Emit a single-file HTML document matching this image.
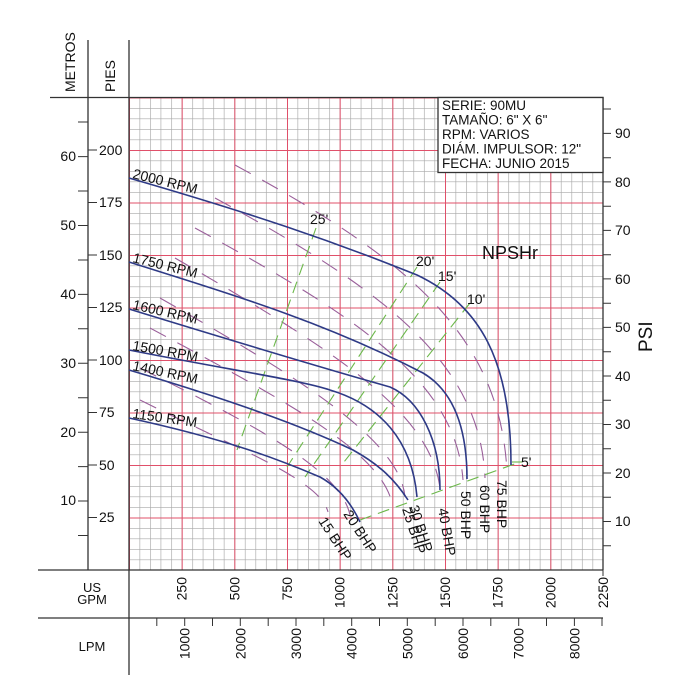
<!DOCTYPE html>
<html><head><meta charset="utf-8"><style>
html,body{margin:0;padding:0;background:#fff}
svg{display:block}
text{font-family:"Liberation Sans",sans-serif;fill:#111}
</style></head><body>
<svg width="700" height="700" viewBox="0 0 700 700" xmlns="http://www.w3.org/2000/svg">
<defs>
<pattern id="mn" x="129" y="97.5" width="10.5333" height="10.5" patternUnits="userSpaceOnUse">
<path d="M0.3 0V10.5M0 0.3H10.5333" stroke="#a8a8a8" stroke-width="0.7" fill="none"/>
</pattern>
<pattern id="mj" x="129" y="97.5" width="52.6667" height="52.5" patternUnits="userSpaceOnUse">
<path d="M0.5 0V52.5M0 0.5H52.6667" stroke="#e0506a" stroke-width="1" fill="none"/>
</pattern>
</defs>
<rect x="0" y="0" width="700" height="700" fill="#fff"/>
<rect x="129" y="97.5" width="474" height="472.5" fill="url(#mn)"/>
<rect x="129" y="97.5" width="474" height="472.5" fill="url(#mj)"/>

<g stroke="#333" stroke-width="1.3" fill="none">
<path d="M50 97.5H603V570"/>
<path d="M88 40V570"/>
<path d="M129 40V675"/>
<path d="M38 570H603"/>
<path d="M38 618H603"/>
</g>

<g stroke="#333" stroke-width="1">
<path d="M78 535.5H88M78 501H88M78 466.6H88M78 432.2H88M78 397.7H88M78 363.3H88M78 328.8H88M78 294.4H88M78 260H88M78 225.5H88M78 191H88M78 156.6H88M78 122H88"/>
<path d="M88 517.5H97M88 465H97M88 412.5H97M88 360H97M88 307.5H97M88 255H97M88 202.5H97M88 150H97"/>
<path d="M603 545.7H611M603 521.5H611M603 497.2H611M603 473H611M603 448.7H611M603 424.5H611M603 400.2H611M603 376H611M603 351.7H611M603 327.4H611M603 303.2H611M603 278.9H611M603 254.7H611M603 230.4H611M603 206.2H611M603 181.9H611M603 157.7H611M603 133.4H611M603 109H611"/>
<path d="M156.8 618V626M184.7 618V626M212.5 618V626M240.3 618V626M268.2 618V626M296 618V626M323.8 618V626M351.7 618V626M379.5 618V626M407.3 618V626M435.2 618V626M463 618V626M490.8 618V626M518.7 618V626M546.5 618V626M574.4 618V626M602 618V626"/>
<path d="M603 570V576"/>
</g>
<g font-size="14" text-anchor="end">
<text x="76" y="505">10</text><text x="76" y="437">20</text><text x="76" y="368">30</text><text x="76" y="299">40</text><text x="76" y="230">50</text><text x="76" y="161">60</text>
</g>
<g font-size="14" text-anchor="start">
<text x="99" y="522">25</text><text x="99" y="470">50</text><text x="99" y="417">75</text><text x="99" y="365">100</text><text x="99" y="312">125</text><text x="99" y="260">150</text><text x="99" y="207">175</text><text x="99" y="155">200</text>
<text x="615" y="526">10</text><text x="615" y="478">20</text><text x="615" y="429">30</text><text x="615" y="381">40</text><text x="615" y="332">50</text><text x="615" y="284">60</text><text x="615" y="235">70</text><text x="615" y="187">80</text><text x="615" y="138">90</text>
</g>
<text font-size="14" transform="translate(75,92) rotate(-90)">METROS</text>
<text font-size="14" transform="translate(115,92) rotate(-90)">PIES</text>
<text font-size="19" transform="translate(652,352) rotate(-90)">PSI</text>
<text font-size="13" x="92" y="592" text-anchor="middle">US</text>
<text font-size="13" x="92" y="604" text-anchor="middle">GPM</text>
<text font-size="13" x="92" y="651" text-anchor="middle">LPM</text>

<g font-size="14" text-anchor="end">
<text transform="translate(186.7,577) rotate(-90)">250</text>
<text transform="translate(239.3,577) rotate(-90)">500</text>
<text transform="translate(292,577) rotate(-90)">750</text>
<text transform="translate(344.7,577) rotate(-90)">1000</text>
<text transform="translate(397.3,577) rotate(-90)">1250</text>
<text transform="translate(450,577) rotate(-90)">1500</text>
<text transform="translate(502.7,577) rotate(-90)">1750</text>
<text transform="translate(555.3,577) rotate(-90)">2000</text>
<text transform="translate(608,577) rotate(-90)">2250</text>
<text transform="translate(189.7,628) rotate(-90)">1000</text>
<text transform="translate(245.3,628) rotate(-90)">2000</text>
<text transform="translate(301,628) rotate(-90)">3000</text>
<text transform="translate(356.7,628) rotate(-90)">4000</text>
<text transform="translate(412.3,628) rotate(-90)">5000</text>
<text transform="translate(468,628) rotate(-90)">6000</text>
<text transform="translate(523.7,628) rotate(-90)">7000</text>
<text transform="translate(579.4,628) rotate(-90)">8000</text>
</g>

<g stroke="#9a5f9a" stroke-width="1.1" fill="none" stroke-dasharray="18,13">
<path d="M235 165 C400 255 500 330 507 472"/>
<path d="M215 198 C380 288 480 360 485 478"/>
<path d="M195 228 C360 318 456 382 463 480"/>
<path d="M175 258 C330 348 430 410 440 488"/>
<path d="M160 298 C300 378 400 440 405 497"/>
<path d="M150 328 C280 398 380 450 392 503"/>
<path d="M140 368 C260 428 340 470 350 515"/>
<path d="M140 400 C240 450 320 480 328 512"/>
</g>

<g stroke="#6cb84a" stroke-width="1.1" fill="none" stroke-dasharray="12,7">
<path d="M316 228 L237 450"/>
<path d="M417 267 L287 467"/>
<path d="M440 282 L305 477"/>
<path d="M470 303 L340 467"/>
<path d="M360 520 L520 462"/>
</g>

<g stroke="#2e3a86" stroke-width="1.6" fill="none">
<path d="M129 178 C250 213 330 240 417 275 C480 305 511 360 511 465"/>
<path d="M129 262 C250 300 330 325 423 373 C455 392 467 430 467 479"/>
<path d="M129 309 C230 340 330 370 390 387 C420 400 440 440 440 490"/>
<path d="M129 350 C230 370 300 380 330 390 C380 405 412 440 417 497"/>
<path d="M129 370 C230 400 300 425 353 450 C380 465 395 480 408 500"/>
<path d="M129 418 C230 440 280 460 320 477 C340 488 352 505 360 522"/>
</g>
<path d="M512 462H522" stroke="#6cb84a" stroke-width="1.1"/>

<g font-size="14">
<text transform="translate(132,178) rotate(14)">2000  RPM</text>
<text transform="translate(132,262) rotate(14)">1750  RPM</text>
<text transform="translate(132,309) rotate(13)">1600  RPM</text>
<text transform="translate(132,350) rotate(10)">1500  RPM</text>
<text transform="translate(132,370) rotate(12)">1400  RPM</text>
<text transform="translate(132,418) rotate(8)">1150  RPM</text>
</g>
<g font-size="14">
<text x="310" y="224">25'</text>
<text x="416" y="266">20'</text>
<text x="438" y="281">15'</text>
<text x="467" y="304">10'</text>
<text x="521" y="467">5'</text>
<text x="482" y="259" font-size="18">NPSHr</text>
<text transform="translate(497,480) rotate(90)">75  BHP</text>
<text transform="translate(480,485) rotate(90)">60  BHP</text>
<text transform="translate(461,491) rotate(90)">50  BHP</text>
<text transform="translate(438,509) rotate(80)">40  BHP</text>
<text transform="translate(409,507) rotate(72)">30  BHP</text>
<text transform="translate(402,509) rotate(72)">25  BHP</text>
<text transform="translate(343,514) rotate(57)">20  BHP</text>
<text transform="translate(318,521) rotate(57)">15  BHP</text>
</g>

<rect x="438" y="97.5" width="165" height="75" fill="#fff" stroke="#333" stroke-width="1.3"/>
<g font-size="13.5">
<text x="442" y="110">SERIE:  90MU</text>
<text x="442" y="124.5">TAMAÑO:  6"  X  6"</text>
<text x="442" y="139">RPM:  VARIOS</text>
<text x="442" y="153.5">DIÁM.  IMPULSOR:  12"</text>
<text x="442" y="168">FECHA:  JUNIO  2015</text>
</g>
</svg>
</body></html>
